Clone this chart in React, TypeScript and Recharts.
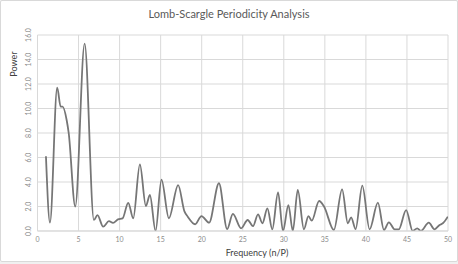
import React from "react";
import { LineChart, Line, XAxis, YAxis, CartesianGrid } from "recharts";

const frequency = [1.03, 1.52, 2.4, 2.82, 3.06, 3.55, 3.8, 4.6, 5.74, 6.87, 7.3, 8.0, 8.7, 9.2, 9.8, 10.36, 11.05, 11.66, 12.47, 13.2, 13.69, 14.38, 15.1, 16.0, 17.13, 17.9, 18.3, 19.2, 19.97, 20.9, 22.1, 23.1, 23.8, 24.8, 25.6, 26.25, 26.86, 27.4, 28.0, 28.6, 29.3, 29.9, 30.56, 31.1, 31.7, 32.45, 33.0, 33.4, 34.3, 34.9, 36.1, 37.1, 37.8, 38.2, 38.75, 39.56, 40.45, 41.46, 42.2, 42.8, 43.5, 44.0, 44.9, 45.7, 46.25, 46.7, 47.66, 48.36, 48.97, 49.37, 49.98];
const power = [6.1, 0.68, 11.7, 10.15, 10.15, 9.06, 8.0, 2.0, 15.3, 0.9, 1.3, 0.35, 0.8, 0.66, 0.95, 1.03, 2.3, 1.04, 5.44, 2.04, 2.94, 0.0, 4.2, 1.04, 3.75, 1.6, 1.17, 0.55, 1.22, 0.68, 3.9, 0.16, 1.39, 0.22, 0.9, 0.4, 1.36, 0.63, 1.85, 0.14, 3.16, 0.0, 2.12, 0.0, 3.35, 0.14, 1.22, 0.84, 2.45, 2.0, 0.08, 3.4, 0.63, 1.12, 0.16, 3.7, 0.14, 2.31, 0.08, 0.71, 0.14, 0.14, 1.71, 0.0, 0.22, 0.0, 0.68, 0.14, 0.49, 0.63, 1.17];

const xTicks = [0, 5, 10, 15, 20, 25, 30, 35, 40, 45, 50];
const yTicks = [0, 2, 4, 6, 8, 10, 12, 14, 16];

const data = frequency.map((f, i) => ({ f, p: power[i] }));

const YTick = (props: any) => {
  const { y, payload } = props;
  const x = 27;
  return (
    <text x={x} y={y} transform={`rotate(-90, ${x}, ${y})`} textAnchor="middle" dominantBaseline="central" fontSize={7} fill="#8c8c8c" fontFamily="Lato, sans-serif">
      {Number(payload.value).toFixed(1)}
    </text>
  );
};

const XTick = (props: any) => {
  const { x, y, payload } = props;
  return (
    <text x={x} y={y + 3} textAnchor="middle" fontSize={7} fill="#8c8c8c" fontFamily="Lato, sans-serif">
      {payload.value}
    </text>
  );
};

export default function App() {
  return (
    <div style={{ position: "absolute", left: 0, top: 0, width: 458, height: 264, background: "#f0f0f0" }}>
      <div style={{ position: "absolute", left: 0, top: 0, width: 456, height: 260, border: "1px solid #d9d9d9", background: "#fff", borderRadius: 2 }}>
        <LineChart width={456} height={260} data={data} margin={{ top: 34, right: 9, bottom: 0, left: 0 }}>
          <text x={228} y={17} textAnchor="middle" fontSize={11} fill="#595959" fontFamily="Lato, sans-serif">Lomb-Scargle Periodicity Analysis</text>
          <text x={12} y={63} transform="rotate(-90, 12, 63)" textAnchor="middle" dominantBaseline="central" fontSize={9} fill="#404040" fontFamily="Lato, sans-serif">Power</text>
          <text x={256} y={255} textAnchor="middle" fontSize={9} fill="#404040" fontFamily="Lato, sans-serif">Frequency (n/P)</text>
          <CartesianGrid stroke="#d9d9d9" strokeWidth={1} />
          <XAxis dataKey="f" type="number" domain={[0, 50]} ticks={xTicks} height={30} tick={<XTick />} tickLine={false} axisLine={{ stroke: "#d9d9d9" }} allowDataOverflow />
          <YAxis type="number" domain={[0, 16]} ticks={yTicks} width={36.5} tick={<YTick />} tickLine={false} axisLine={{ stroke: "#d9d9d9" }} allowDataOverflow />
          <Line dataKey="p" type="monotone" stroke="#767676" strokeWidth={1.8} dot={false} isAnimationActive={false} />
        </LineChart>
      </div>
    </div>
  );
}
